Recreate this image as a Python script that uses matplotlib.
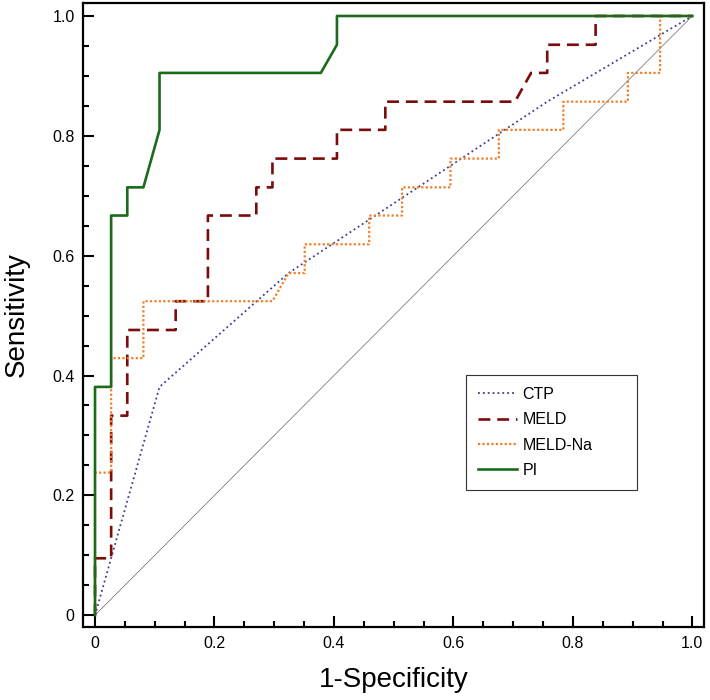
import matplotlib
matplotlib.use('Agg')
import matplotlib.pyplot as plt
from matplotlib.ticker import MultipleLocator, FixedFormatter, FixedLocator

plt.rcParams['font.family'] = ['Liberation Sans', 'DejaVu Sans']

# ROC curve vertices
ctp_x = [0, 0.108, 0.324, 0.757, 1.0]
ctp_y = [0, 0.381, 0.571, 0.857, 1.0]

meld_x = [0, 0, 0.027, 0.027, 0.054, 0.054, 0.135, 0.135, 0.189, 0.189, 0.270, 0.270,
          0.297, 0.297, 0.405, 0.405, 0.486, 0.486, 0.703, 0.730, 0.757, 0.757, 0.838, 0.838, 1.0]
meld_y = [0, 0.095, 0.095, 0.333, 0.333, 0.476, 0.476, 0.524, 0.524, 0.667, 0.667, 0.714,
          0.714, 0.762, 0.762, 0.810, 0.810, 0.857, 0.857, 0.905, 0.905, 0.952, 0.952, 1.0, 1.0]

meldna_x = [0, 0, 0.027, 0.027, 0.081, 0.081, 0.297, 0.324, 0.351, 0.351, 0.459, 0.459, 0.514,
            0.514, 0.595, 0.595, 0.676, 0.676, 0.784, 0.784, 0.892, 0.892, 0.946, 0.946, 1.0]
meldna_y = [0, 0.238, 0.238, 0.429, 0.429, 0.524, 0.524, 0.571, 0.571, 0.619, 0.619, 0.667, 0.667,
            0.714, 0.714, 0.762, 0.762, 0.810, 0.810, 0.857, 0.857, 0.905, 0.905, 1.0, 1.0]

pi_x = [0, 0, 0.027, 0.027, 0.054, 0.054, 0.081, 0.108, 0.108, 0.378, 0.405, 0.405, 1.0]
pi_y = [0, 0.381, 0.381, 0.667, 0.667, 0.714, 0.714, 0.810, 0.905, 0.905, 0.952, 1.0, 1.0]

tick_vals = [0, 0.2, 0.4, 0.6, 0.8, 1.0]
tick_labels = ['0', '0.2', '0.4', '0.6', '0.8', '1.0']

fig = plt.figure(figsize=(7.1, 7.0), dpi=100)
ax = fig.add_axes([0.117, 0.104, 0.875, 0.892])

# chance line
ax.plot([0, 1], [0, 1], color='#666666', lw=0.5, zorder=1)

ax.plot(ctp_x, ctp_y, color='#3b3b9a', lw=1.3, dashes=(1, 1.7), label='CTP', zorder=2)
ax.plot(meld_x, meld_y, color='#7a0c0c', lw=1.9, dashes=(4.5, 2.6), label='MELD', zorder=3)
ax.plot(meldna_x, meldna_y, color='#f07f2a', lw=1.6, dashes=(1, 1.0), label='MELD-Na', zorder=4)
ax.plot(pi_x, pi_y, color='#1a6b1a', lw=1.9, label='PI', zorder=5)

ax.set_xlim(-0.02, 1.02)
ax.set_ylim(-0.02, 1.022)

for a in (ax.xaxis, ax.yaxis):
    a.set_major_locator(FixedLocator(tick_vals))
    a.set_major_formatter(FixedFormatter(tick_labels))
    a.set_minor_locator(MultipleLocator(0.05))

ax.tick_params(which='major', direction='in', length=8, width=1.5, labelsize=11.5, pad=6)
ax.tick_params(which='minor', direction='in', length=4, width=1.5)
for s in ax.spines.values():
    s.set_linewidth(1.6)

ax.set_xlabel('1-Specificity', fontsize=20, labelpad=12)
ax.set_ylabel('Sensitivity', fontsize=20, labelpad=16)

leg = ax.legend(loc='upper left', bbox_to_anchor=(0.617, 0.221, 0.275, 0.183), mode='expand',
                fontsize=11.5, fancybox=False, framealpha=1, edgecolor='#333333',
                handlelength=2.45, handletextpad=0.3, borderpad=0.75, labelspacing=0.65,
                borderaxespad=0)
leg.get_frame().set_linewidth(0.8)

fig.savefig('out.png', dpi=100)
